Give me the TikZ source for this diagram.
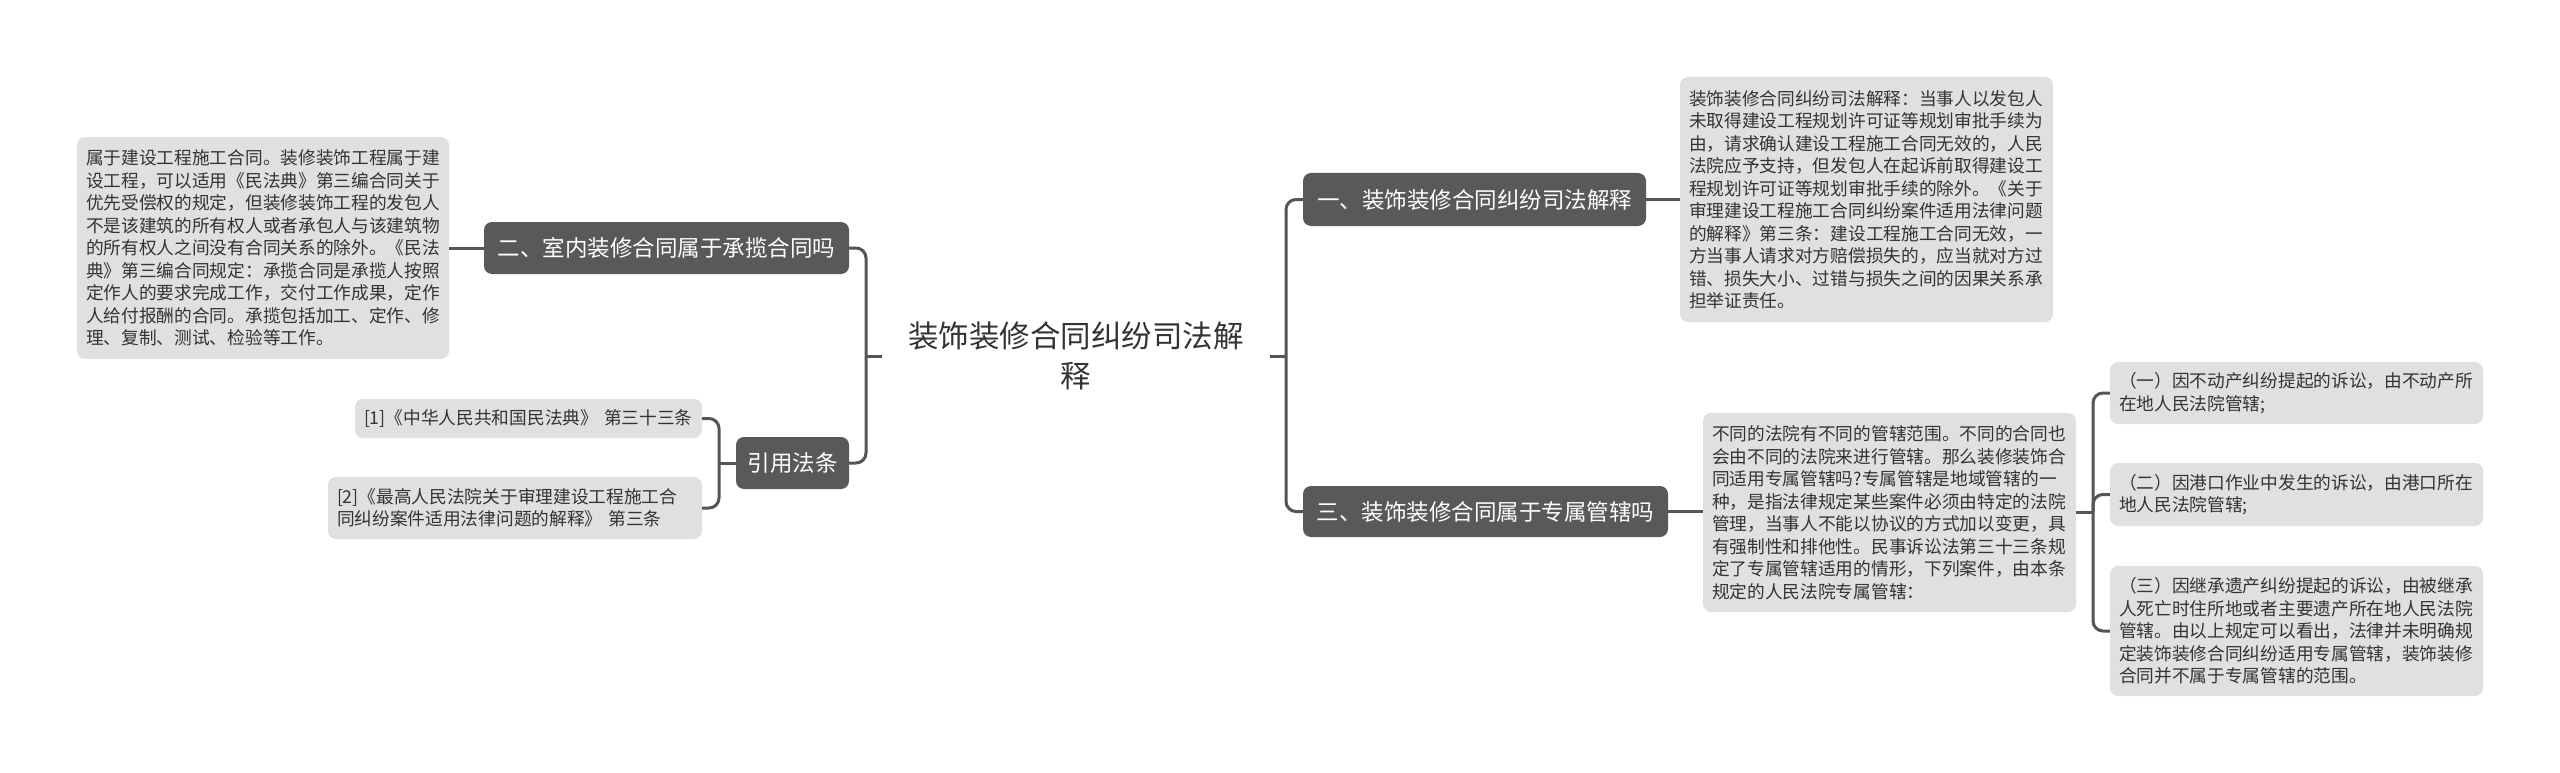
\documentclass[tikz,border=0pt]{standalone}
\usepackage{fontspec}
\setmainfont{Noto Sans CJK SC}
\definecolor{darkfill}{HTML}{595959}
\definecolor{lightfill}{HTML}{E0E0E0}
\definecolor{txtcol}{HTML}{333333}
\definecolor{conncol}{HTML}{555555}
\begin{document}
\begin{tikzpicture}[x=1pt,y=-1pt,
  leaf/.style={fill=lightfill, rounded corners=8pt, text=txtcol, font=\fontsize{17.7}{22.5}\selectfont, align=left, inner xsep=9pt, inner ysep=0pt, anchor=center},
  topic/.style={fill=darkfill, rounded corners=8pt, text=white, font=\fontsize{22.5}{28}\selectfont, inner xsep=0pt, inner ysep=0pt, anchor=center},
  conn/.style={draw=conncol, line width=3pt, rounded corners=10pt}]
\useasboundingbox (0,0) rectangle (2560,773);

% central title
\node[text=txtcol, font=\fontsize{30.5}{40}\selectfont, align=center, minimum width=388pt, inner xsep=0pt] (T) at (1076,356) {装饰装修合同纠纷司法解\\释};

% left side
\node[topic, minimum width=365pt, minimum height=52pt] (N2) at (666.5,248) {二、室内装修合同属于承揽合同吗};
\node[topic, minimum width=113pt, minimum height=52pt] (NL) at (792.5,463) {引用法条};
\node[leaf, text width=354pt, minimum height=222pt] (L1) at (263,248) {属于建设工程施工合同。装修装饰工程属于建\\设工程，可以适用《民法典》第三编合同关于\\优先受偿权的规定，但装修装饰工程的发包人\\不是该建筑的所有权人或者承包人与该建筑物\\的所有权人之间没有合同关系的除外。《民法\\典》第三编合同规定：承揽合同是承揽人按照\\定作人的要求完成工作，交付工作成果，定作\\人给付报酬的合同。承揽包括加工、定作、修\\理、复制、测试、检验等工作。};
\node[leaf, text width=329pt, minimum height=39pt] (C1) at (528.5,418.5) {[1]《中华人民共和国民法典》 第三十三条};
\node[leaf, text width=356pt, minimum height=62pt] (C2) at (515,508) {[2]《最高人民法院关于审理建设工程施工合\\同纠纷案件适用法律问题的解释》 第三条};

% right side
\node[topic, minimum width=343pt, minimum height=53pt] (N1) at (1474.5,199.5) {一、装饰装修合同纠纷司法解释};
\node[topic, minimum width=365pt, minimum height=51pt] (N3) at (1485.5,511.5) {三、装饰装修合同属于专属管辖吗};
\node[leaf, text width=355pt, minimum height=245pt] (R1) at (1866.5,199.5) {装饰装修合同纠纷司法解释：当事人以发包人\\未取得建设工程规划许可证等规划审批手续为\\由，请求确认建设工程施工合同无效的，人民\\法院应予支持，但发包人在起诉前取得建设工\\程规划许可证等规划审批手续的除外。《关于\\审理建设工程施工合同纠纷案件适用法律问题\\的解释》第三条：建设工程施工合同无效，一\\方当事人请求对方赔偿损失的，应当就对方过\\错、损失大小、过错与损失之间的因果关系承\\担举证责任。};
\node[leaf, text width=355pt, minimum height=199pt] (R2) at (1889.5,512.5) {不同的法院有不同的管辖范围。不同的合同也\\会由不同的法院来进行管辖。那么装修装饰合\\同适用专属管辖吗?专属管辖是地域管辖的一\\种，是指法律规定某些案件必须由特定的法院\\管理，当事人不能以协议的方式加以变更，具\\有强制性和排他性。民事诉讼法第三十三条规\\定了专属管辖适用的情形，下列案件，由本条\\规定的人民法院专属管辖：};
\node[leaf, text width=355pt, minimum height=62pt] (A1) at (2296.5,393) {（一）因不动产纠纷提起的诉讼，由不动产所\\在地人民法院管辖;};
\node[leaf, text width=355pt, minimum height=63pt] (A2) at (2296.5,494.5) {（二）因港口作业中发生的诉讼，由港口所在\\地人民法院管辖;};
\node[leaf, text width=355pt, minimum height=130pt] (A3) at (2296.5,631) {（三）因继承遗产纠纷提起的诉讼，由被继承\\人死亡时住所地或者主要遗产所在地人民法院\\管辖。由以上规定可以看出，法律并未明确规\\定装饰装修合同纠纷适用专属管辖，装饰装修\\合同并不属于专属管辖的范围。};

% junctions
\coordinate (jl) at (866,356);
\coordinate (jr) at (1286,356);
\coordinate (jc) at (719,463);
\coordinate (jd) at (2093,512);

% connectors
\draw[conn] (T.west) -- (jl);
\draw[conn] (N2.east) -| (jl) |- (NL.east);
\draw[conn] (L1.east) -- (N2.west);
\draw[conn] (NL.west) -- (jc);
\draw[conn] (C1.east) -| (jc) |- (C2.east);

\draw[conn] (T.east) -- (jr);
\draw[conn] (N1.west) -| (jr) |- (N3.west);
\draw[conn] (N1.east) -- (R1.west |- N1.east);
\draw[conn] (N3.east) -- (R2.west |- N3.east);
\draw[conn] (R2.east |- jd) -- (jd);
\draw[conn] (jd) |- (A1.west);
\draw[conn] (jd) |- (A2.west);
\draw[conn] (jd) |- (A3.west);
\end{tikzpicture}
\end{document}
